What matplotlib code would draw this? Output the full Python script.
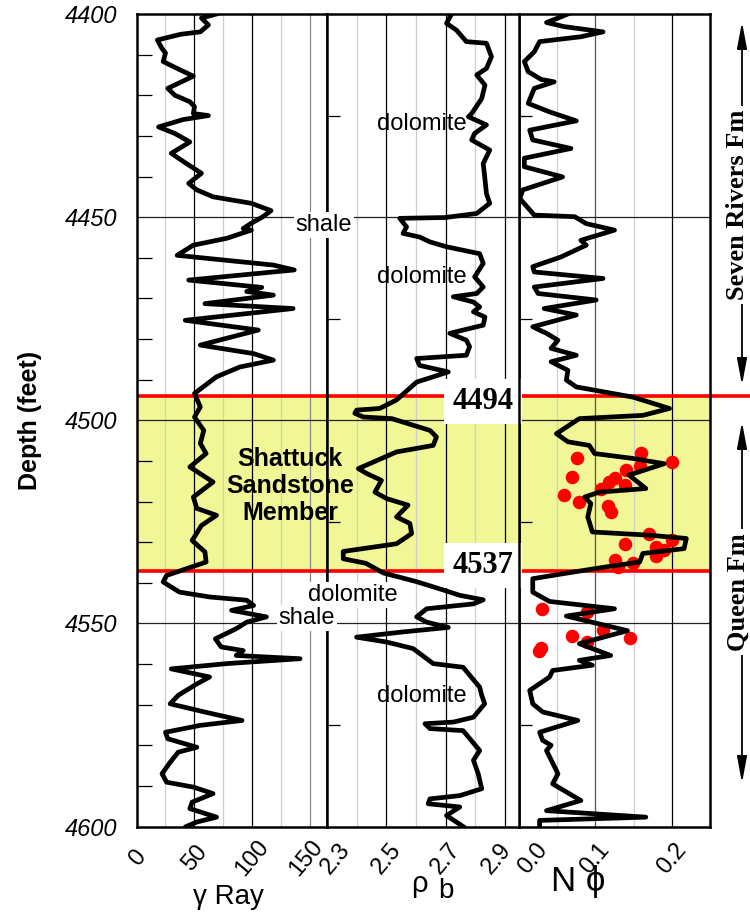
import matplotlib
matplotlib.use("Agg")
import matplotlib.pyplot as plt
import matplotlib.transforms as mtransforms

plt.rcParams["font.family"] = ["Liberation Sans", "DejaVu Sans"]

# Gamma ray log (API units) against depth (feet)
gamma_depth = [4400, 4401, 4402.7, 4404.4, 4405, 4406.4, 4408.5, 4409.6, 4411.7, 4413.4,
               4415.3, 4418.3, 4420, 4421.6, 4422.8, 4424.5, 4425, 4426, 4427.8, 4429.4,
               4431.5, 4434.3, 4436.8, 4439.2, 4441.7, 4443.3, 4445, 4446.6, 4448.4, 4449.9,
               4451.5, 4452.8, 4453.2, 4455.2, 4456.9, 4459.4, 4461.8, 4463, 4465.5, 4467.3,
               4468.3, 4469.2, 4471.3, 4472.5, 4475.4, 4477.8, 4481.5, 4483.6, 4485.2, 4486.9,
               4489.3, 4493.4, 4496.7, 4499.2, 4502.5, 4505.7, 4508.2, 4511.5, 4515.2, 4518.9,
               4521.7, 4523.4, 4525.9, 4529.6, 4532.4, 4534.9, 4538.2, 4539.8, 4542.3, 4543.5,
               4544.3, 4545.6, 4546.8, 4548.4, 4549.7, 4551.3, 4553.8, 4555.8, 4556.7, 4557.9,
               4558.7, 4559.9, 4561.2, 4563.2, 4564.9, 4567.7, 4569.8, 4571.9, 4573.9, 4575.1,
               4576.8, 4578.4, 4580.5, 4581.7, 4584.2, 4587, 4589.1, 4590.3, 4591.9, 4594,
               4595.6, 4597.7, 4598.9, 4600]
gamma_api = [69, 56, 62, 55, 38, 18, 22, 25, 23, 35,
             49, 27, 33, 46, 50, 49, 62, 40, 19, 33,
             46, 30, 43, 56, 45, 52, 66, 99, 116, 109,
             99, 92, 99, 78, 49, 35, 118, 136, 45, 108,
             95, 118, 59, 135, 42, 105, 55, 101, 118, 89,
             69, 50, 55, 50, 58, 55, 60, 46, 66, 49,
             52, 69, 56, 48, 59, 60, 26, 23, 37, 63,
             95, 101, 82, 112, 95, 86, 68, 73, 92, 86,
             141, 78, 30, 63, 52, 36, 29, 60, 91, 55,
             25, 27, 52, 36, 29, 22, 26, 49, 66, 48,
             46, 69, 52, 43]

# Bulk density log (g/cc)
rhob_depth = [4400, 4402.3, 4404, 4406.8, 4407.2, 4410.5, 4413.4, 4415, 4417.5, 4420.8,
              4424.5, 4425.3, 4427.3, 4429.4, 4431, 4433.5, 4436.8, 4440, 4444.2, 4446.6,
              4449.1, 4450.1, 4450.3, 4452.4, 4454, 4454.9, 4456.1, 4457.3, 4459, 4461.4,
              4464.7, 4467.2, 4468.8, 4469.6, 4470.9, 4472.1, 4473.3, 4474.6, 4476.6, 4478.6,
              4480.3, 4481.9, 4484, 4484.8, 4486.5, 4488.1, 4489.3, 4490.6, 4495, 4497.1,
              4497.5, 4498.3, 4499.2, 4499.6, 4502.5, 4504.1, 4506.2, 4507.8, 4511.9, 4513.1,
              4514.8, 4517.7, 4519.3, 4520.9, 4523.8, 4525.4, 4527.9, 4530.4, 4532.3, 4534.1,
              4535.2, 4537.6, 4539.7, 4541.5, 4543.1, 4544.2, 4545.2, 4546.4, 4548.4, 4549.7,
              4551, 4552.1, 4553.4, 4554.6, 4556.2, 4559.9, 4560.8, 4565.7, 4567.7, 4569.8,
              4573.1, 4574.3, 4574.7, 4575.9, 4576.4, 4581.3, 4583.7, 4587, 4590.7, 4592.4,
              4593.2, 4594.4, 4595.2, 4597.3, 4600]
rhob_val = [2.720, 2.703, 2.737, 2.770, 2.838, 2.855, 2.838, 2.805, 2.833, 2.822,
            2.788, 2.777, 2.838, 2.798, 2.788, 2.849, 2.827, 2.832, 2.838, 2.849,
            2.805, 2.698, 2.545, 2.568, 2.556, 2.612, 2.647, 2.703, 2.815, 2.827,
            2.798, 2.827, 2.805, 2.726, 2.794, 2.815, 2.794, 2.833, 2.827, 2.714,
            2.770, 2.781, 2.770, 2.602, 2.612, 2.709, 2.658, 2.602, 2.534, 2.477,
            2.399, 2.393, 2.422, 2.518, 2.647, 2.669, 2.658, 2.534, 2.405, 2.433,
            2.483, 2.461, 2.501, 2.573, 2.534, 2.579, 2.585, 2.534, 2.354, 2.354,
            2.430, 2.490, 2.600, 2.680, 2.748, 2.827, 2.794, 2.636, 2.602, 2.636,
            2.709, 2.556, 2.399, 2.501, 2.590, 2.658, 2.759, 2.815, 2.822, 2.832,
            2.794, 2.726, 2.630, 2.647, 2.759, 2.815, 2.794, 2.810, 2.822, 2.748,
            2.647, 2.641, 2.748, 2.703, 2.759]

# Neutron porosity log (fraction)
nphi_depth = [4400, 4401, 4402.1, 4403.1, 4404.4, 4405.6, 4406.8, 4409.3, 4411.7, 4414.2,
              4416.1, 4416.7, 4418.3, 4422, 4424.1, 4426.3, 4428.6, 4431, 4433.1, 4435.5,
              4437.6, 4440.1, 4443.3, 4445.4, 4449.5, 4449.9, 4451.6, 4453.2, 4455.7, 4456.9,
              4459.8, 4462.2, 4463.5, 4465.1, 4467.2, 4468.8, 4470.4, 4472.5, 4474.1, 4477,
              4478.6, 4480.3, 4482.3, 4484, 4485.6, 4487.7, 4490.1, 4491.8, 4494.3, 4497.1,
              4498.8, 4499.6, 4501.2, 4503.3, 4505.3, 4506.2, 4508.2, 4509.4, 4510.7, 4513.5,
              4516.8, 4517.7, 4518.9, 4520.5, 4523.8, 4527.5, 4528.3, 4529.1, 4531.6, 4532.8,
              4534.9, 4536.1, 4537.4, 4539, 4542.3, 4544.6, 4546.4, 4548.2, 4551.8, 4555,
              4557.9, 4559.1, 4560.3, 4561.6, 4563.2, 4566.5, 4569.8, 4571.8, 4573.9, 4576.8,
              4578.8, 4580, 4581.3, 4587, 4589.5, 4593.6, 4596.1, 4597.7, 4598.5, 4600]
nphi_val = [0.064, 0.051, 0.036, 0.059, 0.110, 0.081, 0.027, 0.020, 0.007, 0.012,
            0.029, 0.046, 0.020, 0.012, 0.040, 0.075, 0.014, 0.018, 0.068, 0.007,
            0.007, 0.057, 0.005, 0.001, 0.020, 0.073, 0.088, 0.125, 0.081, 0.088,
            0.055, 0.018, 0.020, 0.110, 0.020, 0.025, 0.101, 0.033, 0.075, 0.018,
            0.036, 0.051, 0.042, 0.075, 0.042, 0.064, 0.062, 0.075, 0.149, 0.197,
            0.162, 0.079, 0.066, 0.049, 0.064, 0.092, 0.099, 0.149, 0.190, 0.144,
            0.166, 0.105, 0.086, 0.094, 0.090, 0.096, 0.171, 0.219, 0.216, 0.162,
            0.158, 0.114, 0.070, 0.018, 0.018, 0.040, 0.125, 0.062, 0.142, 0.079,
            0.120, 0.079, 0.096, 0.044, 0.040, 0.014, 0.018, 0.031, 0.077, 0.027,
            0.031, 0.042, 0.036, 0.051, 0.044, 0.081, 0.036, 0.166, 0.027, 0.027]

# Core porosity measurements
core_depth = [4509.2, 4508.1, 4510.3, 4512.2, 4511.3, 4514.0, 4514.1, 4515.2, 4516.8, 4516.0,
              4518.3, 4520.1, 4521.2, 4522.6, 4528.1, 4529.4, 4530.4, 4531.2, 4532.0, 4533.3,
              4534.3, 4536.1, 4535.1, 4546.4, 4547.3, 4553.0, 4551.7, 4554.6, 4553.5, 4556.0,
              4556.8]
core_phi = [0.076, 0.160, 0.200, 0.140, 0.158, 0.070, 0.125, 0.118, 0.107, 0.139,
            0.059, 0.079, 0.116, 0.120, 0.170, 0.200, 0.139, 0.179, 0.190, 0.179,
            0.125, 0.129, 0.149, 0.030, 0.089, 0.070, 0.110, 0.089, 0.145, 0.029,
            0.026]

depth_ticks = [4400, 4450, 4500, 4550, 4600]
gamma_ticks = [0, 50, 100, 150]
rhob_ticks = [2.3, 2.5, 2.7, 2.9]
nphi_ticks = [0.0, 0.1, 0.2]
shattuck_top = 4494
shattuck_base = 4537

W, H = 750, 914
TOP, BOTTOM = 14, 826.5
YELLOW = "#f1f696"
LIGHT = "#cfcfcf"

fig = plt.figure(figsize=(W / 100, H / 100), dpi=100)


def track(x0, x1):
    return fig.add_axes([x0 / W, 1 - BOTTOM / H, (x1 - x0) / W, (BOTTOM - TOP) / H])


ax1 = track(136.5, 327.3)
ax2 = track(327.3, 519)
ax3 = track(519, 710)
ax2.set_zorder(1)

ax1.set_xlim(0, 164.5)
ax2.set_xlim(2.3, 2.948)
ax3.set_xlim(0, 0.25)

grids = [
    (ax1, [(25, LIGHT), (50, "black"), (75, LIGHT), (100, "black"), (125, LIGHT), (150, "#888888")]),
    (ax2, [(2.4, LIGHT), (2.5, "black"), (2.6, LIGHT), (2.7, "black"), (2.8, LIGHT), (2.9, "black")]),
    (ax3, [(0.05, LIGHT), (0.1, "#555555"), (0.15, LIGHT), (0.2, "black")]),
]

for ax, lines in grids:
    ax.set_ylim(4600, 4400)
    for x, c in lines:
        ax.axvline(x, color=c, lw=0.9, zorder=0.8)
    for d in (4450, 4500, 4550):
        ax.axhline(d, color="#222222", lw=0.9, zorder=0.8)
    ax.axhspan(shattuck_top, shattuck_base, color=YELLOW, lw=0, zorder=0.5)
    ax.axhline(shattuck_top, color="red", lw=2.6, zorder=1.5)
    ax.axhline(shattuck_base, color="red", lw=2.6, zorder=1.5)
    for s in ax.spines.values():
        s.set_linewidth(1.8)
    ax.set_xticks([])

# red marker for the top of the Shattuck runs on to the formation arrows
blend3 = mtransforms.blended_transform_factory(ax3.transAxes, ax3.transData)
ax3.plot([1, 1.22], [shattuck_top, shattuck_top], color="red", lw=2.6,
         transform=blend3, clip_on=False)

# depth ticks
ax1.set_yticks(depth_ticks)
ax1.set_yticklabels([str(d) for d in depth_ticks], fontsize=17, style="italic")
ax1.set_yticks(list(range(4410, 4600, 10)), minor=True)
ax1.tick_params(axis="y", which="major", length=0, pad=14)
ax1.tick_params(axis="y", which="minor", direction="in", length=10.5, width=0.9)
for ax in (ax2, ax3):
    ax.set_yticks([4425, 4475, 4525, 4575])
    ax.tick_params(axis="y", direction="in", length=9.5, width=0.9, labelleft=False)

# curves
ax1.plot(gamma_api, gamma_depth, color="black", lw=3.4, zorder=2, solid_joinstyle="round")
ax2.plot(rhob_val, rhob_depth, color="black", lw=3.4, zorder=2, solid_joinstyle="round")
ax3.scatter(core_phi, core_depth, s=95, color="red", lw=0, zorder=1.9)
ax3.plot(nphi_val, nphi_depth, color="black", lw=3.4, zorder=2, solid_joinstyle="round")


# x tick labels, rotated below each track
def xlabels(ax, ticks, fmt, nudge):
    blend = mtransforms.blended_transform_factory(ax.transData, ax.transAxes)
    for t, dx in zip(ticks, nudge):
        ax.annotate(fmt.format(t), xy=(t, 0), xycoords=blend, xytext=(dx, -23),
                    textcoords="offset points", rotation=50, ha="center", va="center",
                    fontsize=17, annotation_clip=False)


xlabels(ax1, gamma_ticks, "{:d}", [1, 0, 0, -3])
xlabels(ax2, rhob_ticks, "{:.1f}", [6, 0, 0, -6])
xlabels(ax3, nphi_ticks, "{:.1f}", [10, 0, 0])

fig.text(228 / W, 1 - 897 / H, "γ Ray", fontsize=20, ha="center", va="center")
fig.text(419 / W, 1 - 884 / H, "ρ", fontsize=21, ha="center", va="center")
fig.text(446 / W, 1 - 891 / H, "b", fontsize=20, ha="center", va="center")
fig.text(578 / W, 1 - 881 / H, "N ϕ", fontsize=25, ha="center", va="center")
fig.text(30 / W, 1 - 420 / H, "Depth (feet)", fontsize=18, fontweight="bold",
         rotation=90, ha="center", va="center")

# formation boundary depths
serif_bold = dict(family=["Liberation Serif", "DejaVu Serif"], fontweight="bold")
box = dict(facecolor="white", edgecolor="none", pad=6)
ax2.text(2.826, 4495.4, str(shattuck_top), fontsize=22, ha="center", va="center",
         bbox=box, zorder=2.2, **serif_bold)
ax2.text(2.826, 4535.8, str(shattuck_base), fontsize=22, ha="center", va="center",
         bbox=box, zorder=2.2, **serif_bold)

# lithology notes
ax2.text(2.62, 4427.1, "dolomite", fontsize=17, ha="center", va="center")
ax2.text(2.62, 4464.8, "dolomite", fontsize=17, ha="center", va="center")
ax2.text(2.62, 4568, "dolomite", fontsize=17, ha="center", va="center")
fig.text(290 / W, 1 - 486 / H, "Shattuck\nSandstone\nMember", fontsize=18, fontweight="bold",
         ha="center", va="center", linespacing=1.15, zorder=3)
wbox = dict(facecolor="white", edgecolor="none", pad=1.5)
fig.text(324 / W, 1 - 225 / H, "shale", fontsize=17, ha="center", va="center", bbox=wbox)
fig.text(353 / W, 1 - 595 / H, "dolomite", fontsize=17, ha="center", va="center", bbox=wbox)
fig.text(307 / W, 1 - 618 / H, "shale", fontsize=17, ha="center", va="center", bbox=wbox)

# formation names with extent arrows
for y0, y1, yc, name in [(22, 385, 205, "Seven Rivers Fm"), (422, 783, 592, "Queen Fm")]:
    ax3.annotate("", xy=(742, H - y0), xytext=(742, H - y1), xycoords="figure pixels",
                 textcoords="figure pixels", annotation_clip=False,
                 arrowprops=dict(arrowstyle="<|-|>,head_length=0.8,head_width=0.15",
                                 mutation_scale=20, lw=1.3, color="black",
                                 shrinkA=0, shrinkB=0))
    fig.text(738 / W, 1 - yc / H, name, fontsize=19, rotation=90, ha="center", va="center",
             bbox=dict(facecolor="white", edgecolor="none", pad=3), zorder=4, **serif_bold)

fig.savefig("out.png", dpi=100)
